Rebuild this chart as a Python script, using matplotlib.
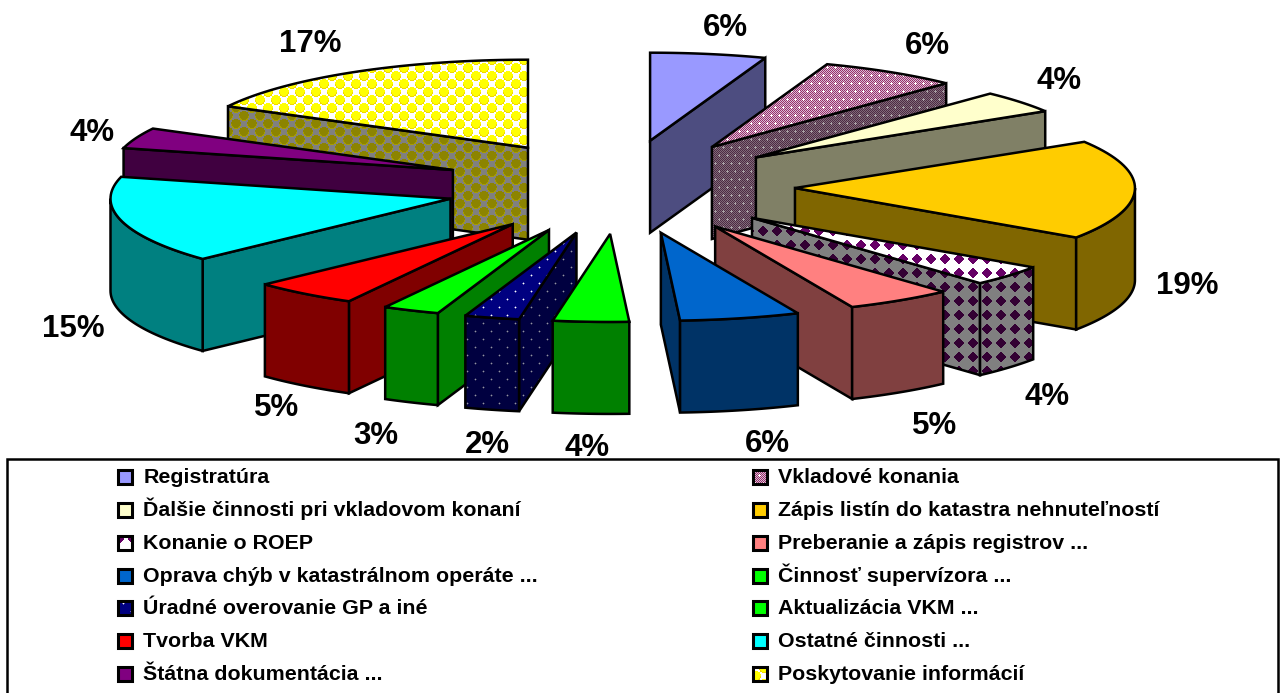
import numpy as np
from matplotlib import pyplot as plt
from matplotlib.colors import to_rgb
from matplotlib.patches import Polygon, Rectangle

plt.rcParams['font.family'] = ['Liberation Sans', 'DejaVu Sans']

# share of each slice, clockwise from the top
names = ["Registratúra", "Vkladové konania", "Ďalšie činnosti pri vkladovom konaní",
         "Zápis listín do katastra nehnuteľností", "Konanie o ROEP",
         "Preberanie a zápis registrov ...", "Oprava chýb v katastrálnom operáte ...",
         "Činnosť supervízora ...", "Úradné overovanie GP a iné", "Aktualizácia VKM ...",
         "Tvorba VKM", "Ostatné činnosti ...", "Štátna dokumentácia ...",
         "Poskytovanie informácií"]
shares = [5.5, 6.6, 4.1, 18.3, 3.8, 5.1, 5.7, 3.6, 2.6, 2.7, 5.0, 16.0, 3.8, 17.2]
percent_labels = ["6%", "6%", "4%", "19%", "4%", "5%", "6%", "4%", "2%", "3%", "5%", "15%", "4%", "17%"]

# layout, in pixels of the picture
W, H = 1288, 693
CX, CY = 620, 187
RX, RY = 340, 88
EXPLODE_X, EXPLODE_Y = 175, 47
DEPTH = 92
LW = 1.8
label_pos = [(725, 25), (927, 43), (1059, 78), (1187, 283), (1047, 394), (935, 423), (767, 441),
             (587, 445), (487, 442), (376, 433), (277, 405), (73, 326), (92, 130), (310, 41)]
legend_rows = [477, 510, 543, 576, 608, 641, 674]
tip_nudge = {12: (-4, 0), 13: (-2, 1)}

# (top colour, side colour, pattern)
styles = [("#9999FF", "#4D4D80", None),
          ("#A8609A", "#5A3C52", "dots_fine"),
          ("#FFFFCC", "#808066", None),
          ("#FFCC00", "#806600", None),
          ("#FFFFFF", "#808080", "diamond"),
          ("#FF8080", "#804040", None),
          ("#0066CC", "#003366", None),
          ("#00FF00", "#008000", None),
          ("#000080", "#000040", "dots"),
          ("#00FF00", "#008000", None),
          ("#FF0000", "#800000", None),
          ("#00FFFF", "#008080", None),
          ("#800080", "#400040", None),
          ("#FFFFFF", "#808080", "balls")]


def make_tile(kind, side):
    size = 14 if kind == "diamond" else 16
    yy, xx = np.mgrid[0:size, 0:size]
    tile = np.zeros((size, size, 3))
    if kind == "dots":
        back, halo, dot = ("#000040", "#30305A", "#9090A8") if side else ("#000080", "#6060B0", "#FFFFFF")
        tile[:] = to_rgb(back)
        for px, py in [(3, 3), (11, 11)]:
            tile[(abs(xx - px) + abs(yy - py)) <= 1] = to_rgb(halo)
            tile[py, px] = to_rgb(dot)
    elif kind == "dots_fine":
        a, b, dot = ("#4D2A44", "#806A78", "#A8A0A4") if side else ("#993366", "#D8B8D8", "#FFFFFF")
        tile[(xx + yy) % 2 == 0] = to_rgb(a)
        tile[(xx + yy) % 2 == 1] = to_rgb(b)
        for px, py in [(3, 3), (11, 3), (7, 11), (15, 11)]:
            tile[(abs(xx - px) + abs(yy - py)) <= 1] = to_rgb(dot)
    elif kind == "diamond":
        back, dot = ("#808080", "#330033") if side else ("#FFFFFF", "#660066")
        tile[:] = to_rgb(back)
        tile[(abs(xx - 6.5) + abs(yy - 6.5)) <= 5] = to_rgb(dot)
    elif kind == "balls":
        back, dot, light = ("#808080", "#8C8400", "#A89E00") if side else ("#FFFFFF", "#FFFF00", "#F0D800")
        tile[:] = to_rgb(back)
        for px, py in [(3.5, 3.5), (11.5, 11.5), (-4.5, 11.5), (11.5, -4.5), (19.5, 3.5), (3.5, 19.5)]:
            dist = np.hypot(xx - px, yy - py)
            tile[dist <= 5.0] = to_rgb(dot)
            tile[(dist <= 5.0) & (dist > 4.2) & (yy > py)] = to_rgb(light)
    return tile


def make_canvas(tile):
    size = tile.shape[0]
    return np.tile(tile, (H // size + 1, W // size + 1, 1))[:H, :W]


def draw_face(ax, points, colour, pattern, side, z, lw=LW):
    if pattern is None:
        ax.add_patch(Polygon(points, closed=True, fc=colour, ec="black", lw=lw, joinstyle="miter", zorder=z))
        return
    canvas = make_canvas(make_tile(pattern, side))
    im = ax.imshow(canvas, extent=(0, W, H, 0), interpolation="nearest", aspect="auto", zorder=z)
    clip = Polygon(points, closed=True, transform=ax.transData)
    im.set_clip_path(clip)
    ax.add_patch(Polygon(points, closed=True, fc="none", ec="black", lw=lw, joinstyle="miter", zorder=z))


def rim(tip, a0, a1, n=40):
    th = np.radians(np.linspace(a0, a1, n))
    return np.column_stack((tip[0] + RX * np.sin(th), tip[1] - RY * np.cos(th)))


def extrude(points):
    down = points + np.array([0, DEPTH])
    return np.vstack((points, down[::-1]))


fig = plt.figure(figsize=(W / 100, H / 100), dpi=100)
ax = fig.add_axes([0, 0, 1, 1])

edges = np.cumsum([0] + shares) / sum(shares) * 360
mids = (edges[:-1] + edges[1:]) / 2
order = np.argsort(-np.cos(np.radians(mids)))

z = 2
for i in order:
    a0, a1 = edges[i], edges[i + 1]
    mid = np.radians(mids[i])
    tip = np.array([CX + EXPLODE_X * np.sin(mid), CY - EXPLODE_Y * np.cos(mid)])
    tip = tip + np.array(tip_nudge.get(i, (0, 0)))
    top_col, side_col, pattern = styles[i]
    arc = rim(tip, a0, a1)

    # the faces the viewer can see, from the back
    if a0 > 180:
        draw_face(ax, extrude(np.array([tip, rim(tip, a0, a0, 1)[0]])), side_col, pattern, True, z)
        z += 1
    if a1 < 180:
        draw_face(ax, extrude(np.array([tip, rim(tip, a1, a1, 1)[0]])), side_col, pattern, True, z)
        z += 1
    w0, w1 = max(a0, 90), min(a1, 270)
    if w1 > w0:
        draw_face(ax, extrude(rim(tip, w0, w1)), side_col, pattern, True, z)
        z += 1
    draw_face(ax, np.vstack((tip, arc)), top_col, pattern, False, z)
    z += 1

for (x, y), txt in zip(label_pos, percent_labels):
    ax.text(x, y + 11, txt, fontsize=22.5, fontweight="bold", ha="center", va="baseline", zorder=z)

# legend box, its lower edge runs off the picture
ax.add_patch(Rectangle((7, 459), 1271, 250, fc="white", ec="black", lw=LW, zorder=z))
z += 1
for i, name in enumerate(names):
    row = legend_rows[i // 2]
    col = i % 2
    mx = 125 if col == 0 else 760
    tx = 143.5 if col == 0 else 778
    square = np.array([(mx - 7, row - 7), (mx + 7, row - 7), (mx + 7, row + 7), (mx - 7, row + 7)])
    draw_face(ax, square, styles[i][0], styles[i][2], False, z, lw=2.2)
    ax.text(tx, row + 6, name, fontsize=15.4, fontweight="bold", ha="left", va="baseline", zorder=z)
    z += 1

ax.set_xlim(0, W)
ax.set_ylim(H, 0)
ax.axis("off")
fig.savefig("out.png", dpi=100)
